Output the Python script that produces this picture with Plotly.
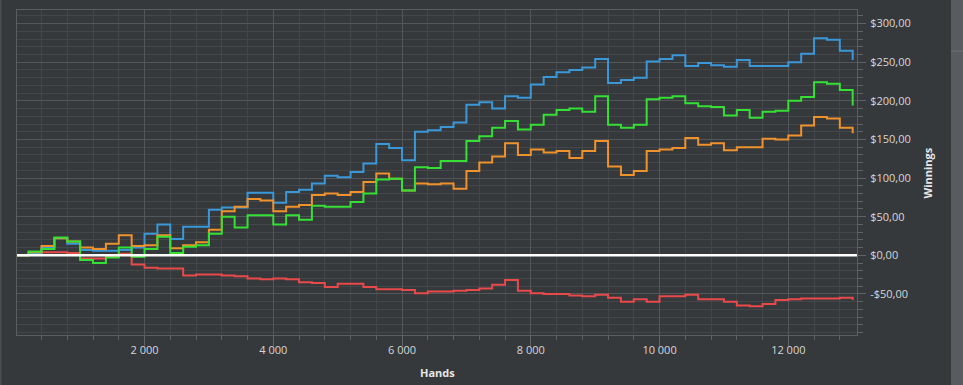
import plotly.graph_objects as go

# ---- data ----
hands = [i * 200 for i in range(66)]  # 0 .. 13000

blue_winnings = [0, 3, 10, 22, 15, 7, 6, 6, 7, 10, 28, 40, 21, 37, 37, 59, 62, 62, 81, 81,
                 68, 82, 85, 93, 103, 101, 108, 119, 144, 139, 123, 160, 162, 166, 172, 195,
                 198, 190, 206, 204, 221, 231, 237, 240, 243, 254, 223, 227, 230, 251, 254,
                 259, 245, 249, 246, 244, 253, 245, 245, 245, 250, 261, 281, 279, 265, 253]
green_winnings = [0, 5, 8, 23, 18, -6, -10, -3, 10, -2, 8, 24, 3, 11, 13, 28, 50, 36, 52, 52,
                  40, 52, 46, 64, 63, 63, 69, 80, 98, 99, 84, 114, 113, 122, 122, 148, 154,
                  165, 174, 163, 169, 182, 188, 190, 186, 206, 169, 165, 169, 202, 204, 206,
                  197, 193, 192, 181, 188, 178, 186, 187, 200, 205, 224, 222, 214, 194]
orange_winnings = [0, 4, 12, 22, 18, 10, 8, 15, 26, 12, 13, 26, 9, 13, 17, 33, 57, 63, 73, 71,
                   57, 63, 65, 78, 80, 78, 82, 95, 106, 99, 84, 93, 92, 93, 86, 109, 120, 128,
                   145, 130, 137, 133, 135, 126, 135, 148, 115, 104, 109, 135, 137, 139, 152,
                   143, 145, 136, 140, 140, 151, 150, 155, 168, 179, 177, 165, 158]
red_winnings = [0, 2, 4, 4, 3, -4, -4, -1, 2, -12, -16, -17, -17, -26, -25, -25, -26, -27, -30,
                -31, -30, -31, -35, -36, -41, -37, -37, -41, -44, -44, -45, -49, -47, -47, -46,
                -45, -43, -38, -32, -46, -49, -50, -50, -52, -53, -51, -55, -60, -57, -60, -53,
                -53, -51, -57, -57, -60, -65, -66, -63, -58, -57, -56, -56, -56, -55, -58]

y_tick_values = [-50, 0, 50, 100, 150, 200, 250, 300]
y_tick_labels = ["-$50,00", "$0,00", "$50,00", "$100,00", "$150,00", "$200,00", "$250,00", "$300,00"]
x_tick_values = [2000, 4000, 6000, 8000, 10000, 12000]
x_tick_labels = ["2 000", "4 000", "6 000", "8 000", "10 000", "12 000"]

# ---- styling ----
BG = "#36393c"
GRID_MAJOR = "#53575a"
GRID_MINOR = "#43474a"
TICK_COL = "#5f6366"
TEXT_COL = "#d6d6d6"
FONT = "Open Sans"

fig = go.Figure()
series = [
    ("red", red_winnings, "#e84a4a"),
    ("blue", blue_winnings, "#3a98d8"),
    ("orange", orange_winnings, "#f0922c"),
    ("green", green_winnings, "#35e035"),
]
for name, vals, col in series:
    fig.add_trace(go.Scatter(x=hands, y=vals, mode="lines", name=name,
                             line=dict(color=col, width=2, shape="hv"), hoverinfo="skip"))

fig.update_layout(
    width=963, height=385,
    margin=dict(l=17, r=106, t=10, b=50),
    paper_bgcolor=BG, plot_bgcolor=BG,
    showlegend=False,
    font=dict(family=FONT, size=11, color=TEXT_COL),
    xaxis=dict(
        range=[19, 13067],
        tickmode="array", tickvals=x_tick_values, ticktext=x_tick_labels,
        showgrid=True, gridcolor=GRID_MAJOR, gridwidth=1,
        ticks="outside", ticklen=10, tickcolor=TICK_COL, tickwidth=1,
        ticklabelstandoff=-5,
        minor=dict(tick0=0, dtick=400, showgrid=True, gridcolor=GRID_MINOR,
                   ticks="outside", ticklen=4, tickcolor=TICK_COL),
        showline=True, linecolor="#5a5e61", mirror=True,
        zeroline=False, fixedrange=True,
        tickfont=dict(family=FONT, size=11, color=TEXT_COL),
    ),
    yaxis=dict(
        side="right",
        range=[-103.2, 317.6],
        tickmode="array", tickvals=y_tick_values, ticktext=y_tick_labels,
        showgrid=True, gridcolor=GRID_MAJOR, gridwidth=1,
        ticks="outside", ticklen=8, tickcolor=TICK_COL, tickwidth=1,
        ticklabelstandoff=2,
        minor=dict(tick0=0, dtick=10, showgrid=True, gridcolor=GRID_MINOR,
                   ticks="outside", ticklen=5, tickcolor=TICK_COL),
        showline=True, linecolor="#5a5e61", mirror=True,
        zeroline=False, fixedrange=True,
        tickfont=dict(family=FONT, size=11, color=TEXT_COL),
    ),
    shapes=[
        # white zero line above the series
        dict(type="line", xref="paper", yref="y", x0=0, x1=1, y0=0, y1=0,
             line=dict(color="#ffffff", width=2.5), layer="above"),
        # cut-off side panel at the right edge of the window
        dict(type="rect", xref="paper", yref="paper", x0=1.1119, x1=1.2, y0=-0.3, y1=1.2,
             fillcolor="#585c60", line=dict(width=0), layer="above"),
        dict(type="line", xref="paper", yref="paper", x0=1.1119, x1=1.2,
             y0=(335 - 51) / 325, y1=(335 - 51) / 325,
             line=dict(color="#6c7074", width=1), layer="above"),
        # thin lighter strip at the left edge of the window
        dict(type="rect", xref="paper", yref="paper", x0=-17 / 840, x1=-15.6 / 840, y0=-0.3, y1=1.2,
             fillcolor="#4b4f53", line=dict(width=0), layer="above"),
    ],
    annotations=[
        dict(text="<b>Winnings</b>", xref="paper", yref="paper",
             x=(927 - 17) / 840, y=0.5, textangle=-90, showarrow=False,
             font=dict(family=FONT, size=11, color="#e6e6e6"),
             xanchor="center", yanchor="middle"),
        dict(text="<b>Hands</b>", xref="paper", yref="paper",
             x=0.5, y=(335 - 372) / 325, showarrow=False,
             font=dict(family=FONT, size=11, color="#e6e6e6"),
             xanchor="center", yanchor="middle"),
    ],
)

fig.write_html(
    "out.html",
    config={"displayModeBar": False, "staticPlot": True},
    post_script="document.body.style.margin='0';document.body.style.overflow='hidden';"
                "document.body.style.background='" + BG + "';",
)
